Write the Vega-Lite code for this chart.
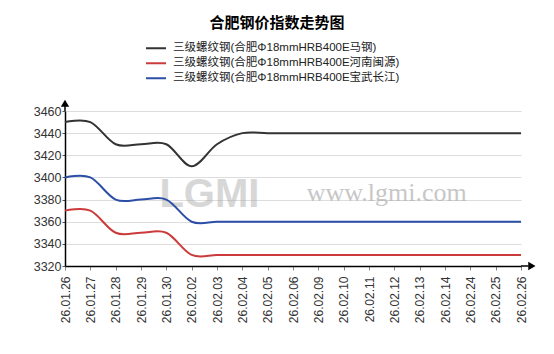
{
  "$schema": "https://vega.github.io/schema/vega-lite/v6.json",
  "width": 456,
  "height": 155,
  "autosize": "none",
  "padding": {"left": 65, "top": 111, "right": 33, "bottom": 88},
  "background": "white",
  "title": {
    "text": "合肥钢价指数走势图",
    "fontSize": 15,
    "fontWeight": "bold",
    "font": "Noto Sans CJK SC",
    "color": "#000000",
    "anchor": "middle",
    "frame": "group",
    "dx": -16,
    "offset": 10
  },
  "config": {
    "view": {"stroke": null},
    "font": "Liberation Sans",
    "axisY": {
      "tickCount": 10,
      "format": "d", "title": null,
      "labelOverlap": false, "labelFontSize": 12.5, "labelColor": "#333333", "labelFont": "Liberation Sans",
      "domainColor": "#000000", "domainWidth": 1.5, "tickColor": "#555555", "tickSize": 3,
      "labelPadding": 1, "grid": true, "gridColor": "#dddddd", "gridWidth": 1
    }
  },
  "datasets": {
    "prices": [
      {"date": "26.01.26", "series": "三级螺纹钢(合肥Φ18mmHRB400E马钢)", "value": 3450},
      {"date": "26.01.27", "series": "三级螺纹钢(合肥Φ18mmHRB400E马钢)", "value": 3450},
      {"date": "26.01.28", "series": "三级螺纹钢(合肥Φ18mmHRB400E马钢)", "value": 3430},
      {"date": "26.01.29", "series": "三级螺纹钢(合肥Φ18mmHRB400E马钢)", "value": 3430},
      {"date": "26.01.30", "series": "三级螺纹钢(合肥Φ18mmHRB400E马钢)", "value": 3430},
      {"date": "26.02.02", "series": "三级螺纹钢(合肥Φ18mmHRB400E马钢)", "value": 3410},
      {"date": "26.02.03", "series": "三级螺纹钢(合肥Φ18mmHRB400E马钢)", "value": 3430},
      {"date": "26.02.04", "series": "三级螺纹钢(合肥Φ18mmHRB400E马钢)", "value": 3440},
      {"date": "26.02.05", "series": "三级螺纹钢(合肥Φ18mmHRB400E马钢)", "value": 3440},
      {"date": "26.02.06", "series": "三级螺纹钢(合肥Φ18mmHRB400E马钢)", "value": 3440},
      {"date": "26.02.09", "series": "三级螺纹钢(合肥Φ18mmHRB400E马钢)", "value": 3440},
      {"date": "26.02.10", "series": "三级螺纹钢(合肥Φ18mmHRB400E马钢)", "value": 3440},
      {"date": "26.02.11", "series": "三级螺纹钢(合肥Φ18mmHRB400E马钢)", "value": 3440},
      {"date": "26.02.12", "series": "三级螺纹钢(合肥Φ18mmHRB400E马钢)", "value": 3440},
      {"date": "26.02.13", "series": "三级螺纹钢(合肥Φ18mmHRB400E马钢)", "value": 3440},
      {"date": "26.02.14", "series": "三级螺纹钢(合肥Φ18mmHRB400E马钢)", "value": 3440},
      {"date": "26.02.24", "series": "三级螺纹钢(合肥Φ18mmHRB400E马钢)", "value": 3440},
      {"date": "26.02.25", "series": "三级螺纹钢(合肥Φ18mmHRB400E马钢)", "value": 3440},
      {"date": "26.02.26", "series": "三级螺纹钢(合肥Φ18mmHRB400E马钢)", "value": 3440},
      {"date": "26.01.26", "series": "三级螺纹钢(合肥Φ18mmHRB400E河南闽源)", "value": 3370},
      {"date": "26.01.27", "series": "三级螺纹钢(合肥Φ18mmHRB400E河南闽源)", "value": 3370},
      {"date": "26.01.28", "series": "三级螺纹钢(合肥Φ18mmHRB400E河南闽源)", "value": 3350},
      {"date": "26.01.29", "series": "三级螺纹钢(合肥Φ18mmHRB400E河南闽源)", "value": 3350},
      {"date": "26.01.30", "series": "三级螺纹钢(合肥Φ18mmHRB400E河南闽源)", "value": 3350},
      {"date": "26.02.02", "series": "三级螺纹钢(合肥Φ18mmHRB400E河南闽源)", "value": 3330},
      {"date": "26.02.03", "series": "三级螺纹钢(合肥Φ18mmHRB400E河南闽源)", "value": 3330},
      {"date": "26.02.04", "series": "三级螺纹钢(合肥Φ18mmHRB400E河南闽源)", "value": 3330},
      {"date": "26.02.05", "series": "三级螺纹钢(合肥Φ18mmHRB400E河南闽源)", "value": 3330},
      {"date": "26.02.06", "series": "三级螺纹钢(合肥Φ18mmHRB400E河南闽源)", "value": 3330},
      {"date": "26.02.09", "series": "三级螺纹钢(合肥Φ18mmHRB400E河南闽源)", "value": 3330},
      {"date": "26.02.10", "series": "三级螺纹钢(合肥Φ18mmHRB400E河南闽源)", "value": 3330},
      {"date": "26.02.11", "series": "三级螺纹钢(合肥Φ18mmHRB400E河南闽源)", "value": 3330},
      {"date": "26.02.12", "series": "三级螺纹钢(合肥Φ18mmHRB400E河南闽源)", "value": 3330},
      {"date": "26.02.13", "series": "三级螺纹钢(合肥Φ18mmHRB400E河南闽源)", "value": 3330},
      {"date": "26.02.14", "series": "三级螺纹钢(合肥Φ18mmHRB400E河南闽源)", "value": 3330},
      {"date": "26.02.24", "series": "三级螺纹钢(合肥Φ18mmHRB400E河南闽源)", "value": 3330},
      {"date": "26.02.25", "series": "三级螺纹钢(合肥Φ18mmHRB400E河南闽源)", "value": 3330},
      {"date": "26.02.26", "series": "三级螺纹钢(合肥Φ18mmHRB400E河南闽源)", "value": 3330},
      {"date": "26.01.26", "series": "三级螺纹钢(合肥Φ18mmHRB400E宝武长江)", "value": 3400},
      {"date": "26.01.27", "series": "三级螺纹钢(合肥Φ18mmHRB400E宝武长江)", "value": 3400},
      {"date": "26.01.28", "series": "三级螺纹钢(合肥Φ18mmHRB400E宝武长江)", "value": 3380},
      {"date": "26.01.29", "series": "三级螺纹钢(合肥Φ18mmHRB400E宝武长江)", "value": 3380},
      {"date": "26.01.30", "series": "三级螺纹钢(合肥Φ18mmHRB400E宝武长江)", "value": 3380},
      {"date": "26.02.02", "series": "三级螺纹钢(合肥Φ18mmHRB400E宝武长江)", "value": 3360},
      {"date": "26.02.03", "series": "三级螺纹钢(合肥Φ18mmHRB400E宝武长江)", "value": 3360},
      {"date": "26.02.04", "series": "三级螺纹钢(合肥Φ18mmHRB400E宝武长江)", "value": 3360},
      {"date": "26.02.05", "series": "三级螺纹钢(合肥Φ18mmHRB400E宝武长江)", "value": 3360},
      {"date": "26.02.06", "series": "三级螺纹钢(合肥Φ18mmHRB400E宝武长江)", "value": 3360},
      {"date": "26.02.09", "series": "三级螺纹钢(合肥Φ18mmHRB400E宝武长江)", "value": 3360},
      {"date": "26.02.10", "series": "三级螺纹钢(合肥Φ18mmHRB400E宝武长江)", "value": 3360},
      {"date": "26.02.11", "series": "三级螺纹钢(合肥Φ18mmHRB400E宝武长江)", "value": 3360},
      {"date": "26.02.12", "series": "三级螺纹钢(合肥Φ18mmHRB400E宝武长江)", "value": 3360},
      {"date": "26.02.13", "series": "三级螺纹钢(合肥Φ18mmHRB400E宝武长江)", "value": 3360},
      {"date": "26.02.14", "series": "三级螺纹钢(合肥Φ18mmHRB400E宝武长江)", "value": 3360},
      {"date": "26.02.24", "series": "三级螺纹钢(合肥Φ18mmHRB400E宝武长江)", "value": 3360},
      {"date": "26.02.25", "series": "三级螺纹钢(合肥Φ18mmHRB400E宝武长江)", "value": 3360},
      {"date": "26.02.26", "series": "三级螺纹钢(合肥Φ18mmHRB400E宝武长江)", "value": 3360}
    ],
    "watermark": [
      {"idx": 5.7, "value": 3384, "label": "LGMI", "kind": "logo"},
      {"idx": 12.7, "value": 3386, "label": "www.lgmi.com", "kind": "site"}
    ],
    "arrows": [
      {"idx": 0, "value": 3467, "dir": "up"},
      {"idx": 18.43, "value": 3320, "dir": "right"}
    ],
    "axisext": [
      {"idx": 0, "idx2": 0, "value": 3460, "value2": 3466},
      {"idx": 18, "idx2": 18.3, "value": 3320, "value2": 3320}
    ]
  },
  "layer": [
    {
      "data": {"name": "watermark"},
      "transform": [{"filter": "datum.kind === 'site'"}],
      "mark": {"type": "text", "font": "Liberation Serif", "fontSize": 26, "color": "#b0b0b0", "opacity": 0.7, "align": "center", "baseline": "middle"},
      "encoding": {
        "x": {"field": "idx", "type": "quantitative", "scale": {"domain": [0, 18], "nice": false, "zero": false}, "axis": null},
        "y": {
          "field": "value", "type": "quantitative",
          "scale": {"domain": [3320, 3460], "nice": false, "zero": false},
          "axis": {"values": [3320, 3340, 3360, 3380, 3400, 3420, 3440, 3460], "tickCount": 10}
        },
        "text": {"field": "label"}
      }
    },
    {
      "data": {"name": "watermark"},
      "transform": [{"filter": "datum.kind === 'logo'"}],
      "mark": {"type": "text", "font": "Liberation Sans", "fontSize": 40, "fontWeight": "bold", "color": "#a8a8a8", "opacity": 0.45, "align": "center", "baseline": "middle"},
      "encoding": {
        "x": {"field": "idx", "type": "quantitative", "scale": {"domain": [0, 18], "nice": false, "zero": false}, "axis": null},
        "y": {
          "field": "value", "type": "quantitative",
          "scale": {"domain": [3320, 3460], "nice": false, "zero": false},
          "axis": {"values": [3320, 3340, 3360, 3380, 3400, 3420, 3440, 3460], "tickCount": 10}
        },
        "text": {"field": "label"}
      }
    },
    {
      "data": {"name": "prices"},
      "mark": {"type": "line", "interpolate": "cardinal", "strokeWidth": 2},
      "encoding": {
        "x": {
          "field": "date", "type": "ordinal", "sort": null,
          "scale": {"type": "point", "padding": 0},
          "axis": {
            "title": null, "labelAngle": -90, "labelFontSize": 12, "labelColor": "#333333",
            "labelFont": "Liberation Sans", "domainColor": "#000000", "domainWidth": 1.5,
            "tickColor": "#888888", "tickSize": 4, "labelPadding": 6, "grid": false
          }
        },
        "y": {
          "field": "value", "type": "quantitative",
          "scale": {"domain": [3320, 3460], "nice": false, "zero": false},
          "axis": {"values": [3320, 3340, 3360, 3380, 3400, 3420, 3440, 3460], "tickCount": 10}
        },
        "color": {
          "field": "series", "type": "nominal",
          "scale": {
            "domain": ["三级螺纹钢(合肥Φ18mmHRB400E马钢)", "三级螺纹钢(合肥Φ18mmHRB400E河南闽源)", "三级螺纹钢(合肥Φ18mmHRB400E宝武长江)"],
            "range": ["#333333", "#cc3b3b", "#2b4ea6"]
          },
          "legend": {
            "orient": "none", "legendX": 80, "legendY": -70, "title": null,
            "labelFontSize": 11.5, "labelFont": "Liberation Sans, Noto Sans CJK SC", "labelColor": "#222222",
            "symbolType": "stroke", "symbolStrokeWidth": 2, "symbolSize": 400, "rowPadding": 0, "clipHeight": 14.5, "labelOffset": 6,
            "labelLimit": 400
          }
        }
      }
    },
    {
      "data": {"name": "axisext"},
      "mark": {"type": "rule", "color": "#000000", "strokeWidth": 1.5},
      "encoding": {
        "x": {"field": "idx", "type": "quantitative", "scale": {"domain": [0, 18], "nice": false, "zero": false}, "axis": null},
        "x2": {"field": "idx2"},
        "y": {"field": "value", "type": "quantitative", "scale": {"domain": [3320, 3460], "nice": false, "zero": false}},
        "y2": {"field": "value2"}
      }
    },
    {
      "data": {"name": "arrows"},
      "mark": {"type": "point", "filled": true, "color": "#000000", "opacity": 1, "size": 70},
      "encoding": {
        "x": {"field": "idx", "type": "quantitative", "scale": {"domain": [0, 18], "nice": false, "zero": false}, "axis": null},
        "y": {"field": "value", "type": "quantitative", "scale": {"domain": [3320, 3460], "nice": false, "zero": false}},
        "shape": {
          "field": "dir", "type": "nominal",
          "scale": {"domain": ["up", "right"], "range": ["triangle-up", "triangle-right"]},
          "legend": null
        }
      }
    }
  ],
  "resolve": {"scale": {"x": "independent"}}
}
